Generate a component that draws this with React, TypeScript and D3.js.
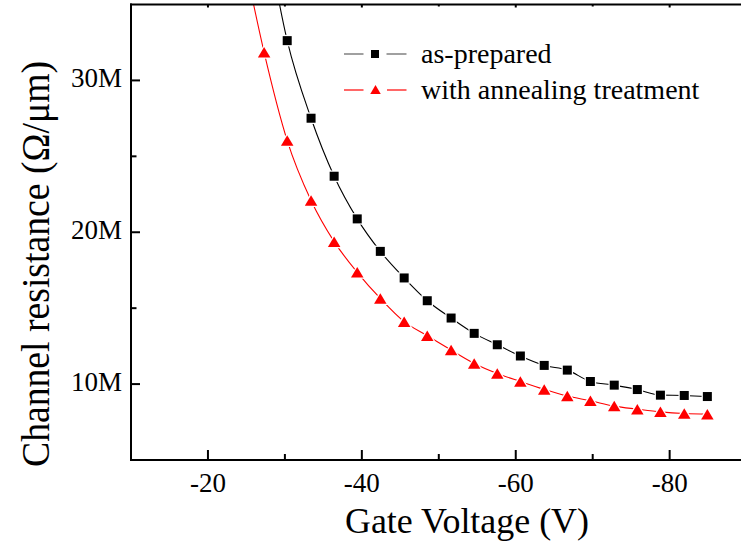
import React from "react";
import * as d3 from "d3";

const xTicksMajor = [-20, -40, -60, -80];
const xTicksMinor = [-30, -50, -70, -90];
const yTicksMajor = [10, 20, 30];
const yTicksMinor = [15, 25];
const yTickLabels = ["10M", "20M", "30M"];
const xTickLabels = ["-20", "-40", "-60", "-80"];

const seriesNames = ["as-prepared", "with annealing treatment"];

const asPreparedV = [-27.3, -30.3, -33.4, -36.4, -39.4, -42.4, -45.5, -48.5, -51.6, -54.6, -57.6, -60.6, -63.7, -66.7, -69.7, -72.8, -75.8, -78.8, -81.9, -84.9];
const asPreparedR = [40.5, 32.62, 27.51, 23.69, 20.88, 18.74, 16.99, 15.49, 14.35, 13.34, 12.59, 11.85, 11.23, 10.92, 10.17, 9.93, 9.64, 9.27, 9.25, 9.18];

const annealedV = [-24.3, -27.3, -30.3, -33.4, -36.4, -39.4, -42.4, -45.5, -48.5, -51.6, -54.6, -57.6, -60.6, -63.7, -66.7, -69.7, -72.8, -75.8, -78.8, -81.9, -84.9];
const annealedR = [39.0, 31.85, 26.04, 22.09, 19.38, 17.36, 15.64, 14.11, 13.18, 12.24, 11.36, 10.7, 10.17, 9.65, 9.21, 8.9, 8.55, 8.35, 8.17, 8.06, 8.02];

const FONT = "Liberation Serif, DejaVu Serif, serif";

export default function App() {
  const left = 131, right = 746.6, top = 4.5, bottom = 460;
  const x = d3.scaleLinear().domain([-10, -90]).range([left, right]);
  const y = d3.scaleLinear().domain([5, 35]).range([bottom, top]);

  const blackPts = asPreparedV.map((v, i) => [x(v), y(asPreparedR[i])] as [number, number]);
  const redPts = annealedV.map((v, i) => [x(v), y(annealedR[i])] as [number, number]);
  const line = d3.line().curve(d3.curveMonotoneX);

  const sq = 9;
  const triW = 12.5, triH = 10.5;
  const tri = (cx: number, cy: number, w = triW, h = triH) =>
    `M${cx},${cy - h / 2}L${cx + w / 2},${cy + h / 2}L${cx - w / 2},${cy + h / 2}Z`;

  const ts = (size: number) => ({ fontFamily: FONT, fontSize: size + "px" });

  return (
    <svg width={741} height={547} style={{ position: "absolute", left: 0, top: 0, background: "#fff" }}>
      <defs>
        <clipPath id="plotClip">
          <rect x={left} y={top} width={right - left} height={bottom - top} />
        </clipPath>
      </defs>
      <rect x={0} y={0} width={741} height={547} fill="#fff" />

      <g clipPath="url(#plotClip)">
        <path d={line(blackPts) || ""} fill="none" stroke="#000" strokeWidth={1.1} />
        <path d={line(redPts) || ""} fill="none" stroke="#ff0000" strokeWidth={1.1} />
        {blackPts.map((p, i) => (
          <rect key={"b" + i} x={p[0] - sq / 2} y={p[1] - sq / 2} width={sq} height={sq}
            fill="#000" stroke="#fff" strokeWidth={2.5} paintOrder="stroke" />
        ))}
        {redPts.map((p, i) => (
          <path key={"r" + i} d={tri(p[0], p[1])} fill="#ff0000" stroke="#fff" strokeWidth={2.5}
            paintOrder="stroke" strokeLinejoin="miter" />
        ))}
      </g>

      {/* axes */}
      <line x1={left} x2={left} y1={top - 1} y2={bottom + 1} stroke="#000" strokeWidth={2} />
      <line x1={left - 1} x2={741} y1={bottom} y2={bottom} stroke="#000" strokeWidth={2} />
      <line x1={left - 1} x2={741} y1={top} y2={top} stroke="#000" strokeWidth={2} />

      {xTicksMajor.map((t) => (
        <g key={"xm" + t}>
          <line x1={x(t)} x2={x(t)} y1={bottom} y2={bottom - 10} stroke="#000" strokeWidth={2} />
          <line x1={x(t)} x2={x(t)} y1={top} y2={top + 3} stroke="#000" strokeWidth={2} />
        </g>
      ))}
      {xTicksMinor.map((t) => (
        <g key={"xn" + t}>
          <line x1={x(t)} x2={x(t)} y1={bottom} y2={bottom - 6} stroke="#000" strokeWidth={2} />
          <line x1={x(t)} x2={x(t)} y1={top} y2={top + 2} stroke="#000" strokeWidth={2} />
        </g>
      ))}
      {yTicksMajor.map((t) => (
        <line key={"ym" + t} x1={left} x2={left + 9} y1={y(t)} y2={y(t)} stroke="#000" strokeWidth={2} />
      ))}
      {yTicksMinor.map((t) => (
        <line key={"yn" + t} x1={left} x2={left + 5.5} y1={y(t)} y2={y(t)} stroke="#000" strokeWidth={2} />
      ))}

      {xTicksMajor.map((t, i) => (
        <text key={"xl" + t} x={x(t)} y={491.5} textAnchor="middle" style={ts(27)} fill="#000">
          {xTickLabels[i]}
        </text>
      ))}
      {yTicksMajor.map((t, i) => (
        <text key={"yl" + t} x={122} y={y(t) + 7} textAnchor="end" style={ts(27)} fill="#000">
          {yTickLabels[i]}
        </text>
      ))}

      <text x={467} y={533} textAnchor="middle" style={ts(35)} fill="#000"
        textLength={244} lengthAdjust="spacingAndGlyphs">
        Gate Voltage (V)
      </text>
      <text transform="translate(49,264) rotate(-90)" textAnchor="middle" style={ts(40)} fill="#000"
        textLength={406} lengthAdjust="spacingAndGlyphs">
        Channel resistance (Ω/μm)
      </text>

      {/* legend */}
      <g>
        <line x1={344} x2={363.5} y1={54} y2={54} stroke="#808080" strokeWidth={1.5} />
        <line x1={386.5} x2={406.5} y1={54} y2={54} stroke="#808080" strokeWidth={1.5} />
        <rect x={375 - 4} y={54 - 4} width={8} height={8} fill="#000" />
        <text x={421} y={63} style={ts(28)} fill="#000">{seriesNames[0]}</text>

        <line x1={344} x2={363.5} y1={90} y2={90} stroke="#ff0000" strokeWidth={1.2} />
        <line x1={387} x2={406.5} y1={90} y2={90} stroke="#ff0000" strokeWidth={1.2} />
        <path d={tri(375.5, 89.5, 10.5, 9)} fill="#ff0000" />
        <text x={421} y={98.5} style={ts(28)} fill="#000">{seriesNames[1]}</text>
      </g>
    </svg>
  );
}
